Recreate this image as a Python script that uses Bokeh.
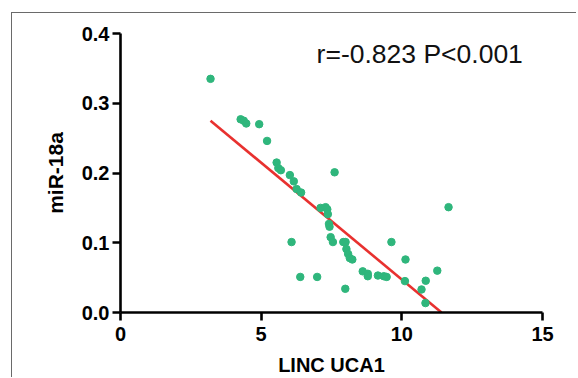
from bokeh.plotting import figure
from bokeh.models import Range1d, FixedTicker, PrintfTickFormatter, Label
from bokeh.embed import file_html
from bokeh.resources import INLINE

# LINC UCA1 expression (x) vs miR-18a (y)
uca1 = [3.20, 4.27, 4.38, 4.47, 4.93, 5.21, 5.55, 5.61, 5.70, 6.02,
        6.16, 6.26, 6.42, 7.61, 7.11, 7.29, 7.35, 7.37, 7.41, 7.43,
        6.08, 7.47, 7.55, 7.92, 8.00, 8.03, 8.09, 8.15, 8.24, 6.39,
        6.99, 7.99, 8.61, 8.79, 8.79, 9.15, 9.36, 9.46, 9.63, 10.13,
        10.11, 10.70, 10.85, 10.84, 11.26, 11.66]
mir18a = [0.335, 0.277, 0.275, 0.271, 0.270, 0.246, 0.215, 0.207, 0.204, 0.197,
          0.188, 0.177, 0.172, 0.201, 0.150, 0.151, 0.148, 0.141, 0.127, 0.123,
          0.101, 0.108, 0.101, 0.101, 0.101, 0.091, 0.084, 0.078, 0.076, 0.051,
          0.051, 0.034, 0.059, 0.0555, 0.052, 0.053, 0.052, 0.051, 0.101, 0.076,
          0.045, 0.033, 0.0455, 0.0135, 0.060, 0.151]

# fitted regression line (end points)
fit_x = [3.20, 11.41]
fit_y = [0.275, 0.0]

x_ticks = [0, 5, 10, 15]
y_ticks = [0.0, 0.1, 0.2, 0.3, 0.4]
x_title = "LINC UCA1"
y_title = "miR-18a"
stat_text = "r=-0.823 P<0.001"

FONT = "Liberation Sans"

p = figure(width=565, height=365, output_backend="svg", toolbar_location=None,
           x_range=Range1d(0, 15), y_range=Range1d(0, 0.4),
           min_border_left=108, min_border_right=35,
           min_border_top=20, min_border_bottom=64,
           styles={"margin-left": "12px", "margin-top": "13px",
                   "box-shadow": "-1px -1px 0 0 #6a6a6a"})

p.background_fill_color = "white"
p.border_fill_color = "white"
p.outline_line_color = None
p.grid.visible = False

for ax in (p.xaxis[0], p.yaxis[0]):
    ax.axis_line_width = 2.6
    ax.axis_line_color = "black"
    ax.major_tick_line_width = 2.6
    ax.major_tick_line_color = "black"
    ax.major_tick_out = 8
    ax.major_tick_in = 0
    ax.minor_tick_out = 0
    ax.minor_tick_in = 0
    ax.major_label_text_font = FONT
    ax.major_label_text_font_style = "bold"
    ax.major_label_text_font_size = "20px"
    ax.major_label_text_color = "black"
    ax.axis_label_text_font = FONT
    ax.axis_label_text_font_style = "bold"
    ax.axis_label_text_color = "black"

p.xaxis.axis_label_text_font_size = "20px"
p.yaxis.axis_label_text_font_size = "21px"
p.xaxis.ticker = FixedTicker(ticks=x_ticks)
p.yaxis.ticker = FixedTicker(ticks=y_ticks)
p.yaxis.formatter = PrintfTickFormatter(format="%.1f")
p.xaxis.major_label_standoff = 6
p.yaxis.major_label_standoff = 3
p.xaxis.axis_label = x_title
p.yaxis.axis_label = y_title
p.xaxis.axis_label_standoff = 10
p.yaxis.axis_label_standoff = 12

p.line(fit_x, fit_y, line_color="#e8312f", line_width=2.6)
p.scatter(uca1, mir18a, size=7.5, fill_color="#2fb67c", line_color="#2fb67c")

p.add_layout(Label(x=6.97, y=0.371, text=stat_text, text_font=FONT,
                   text_font_size="26.5px", text_color="#111111",
                   text_baseline="alphabetic"))

open("out.html", "w").write(file_html(p, INLINE))
